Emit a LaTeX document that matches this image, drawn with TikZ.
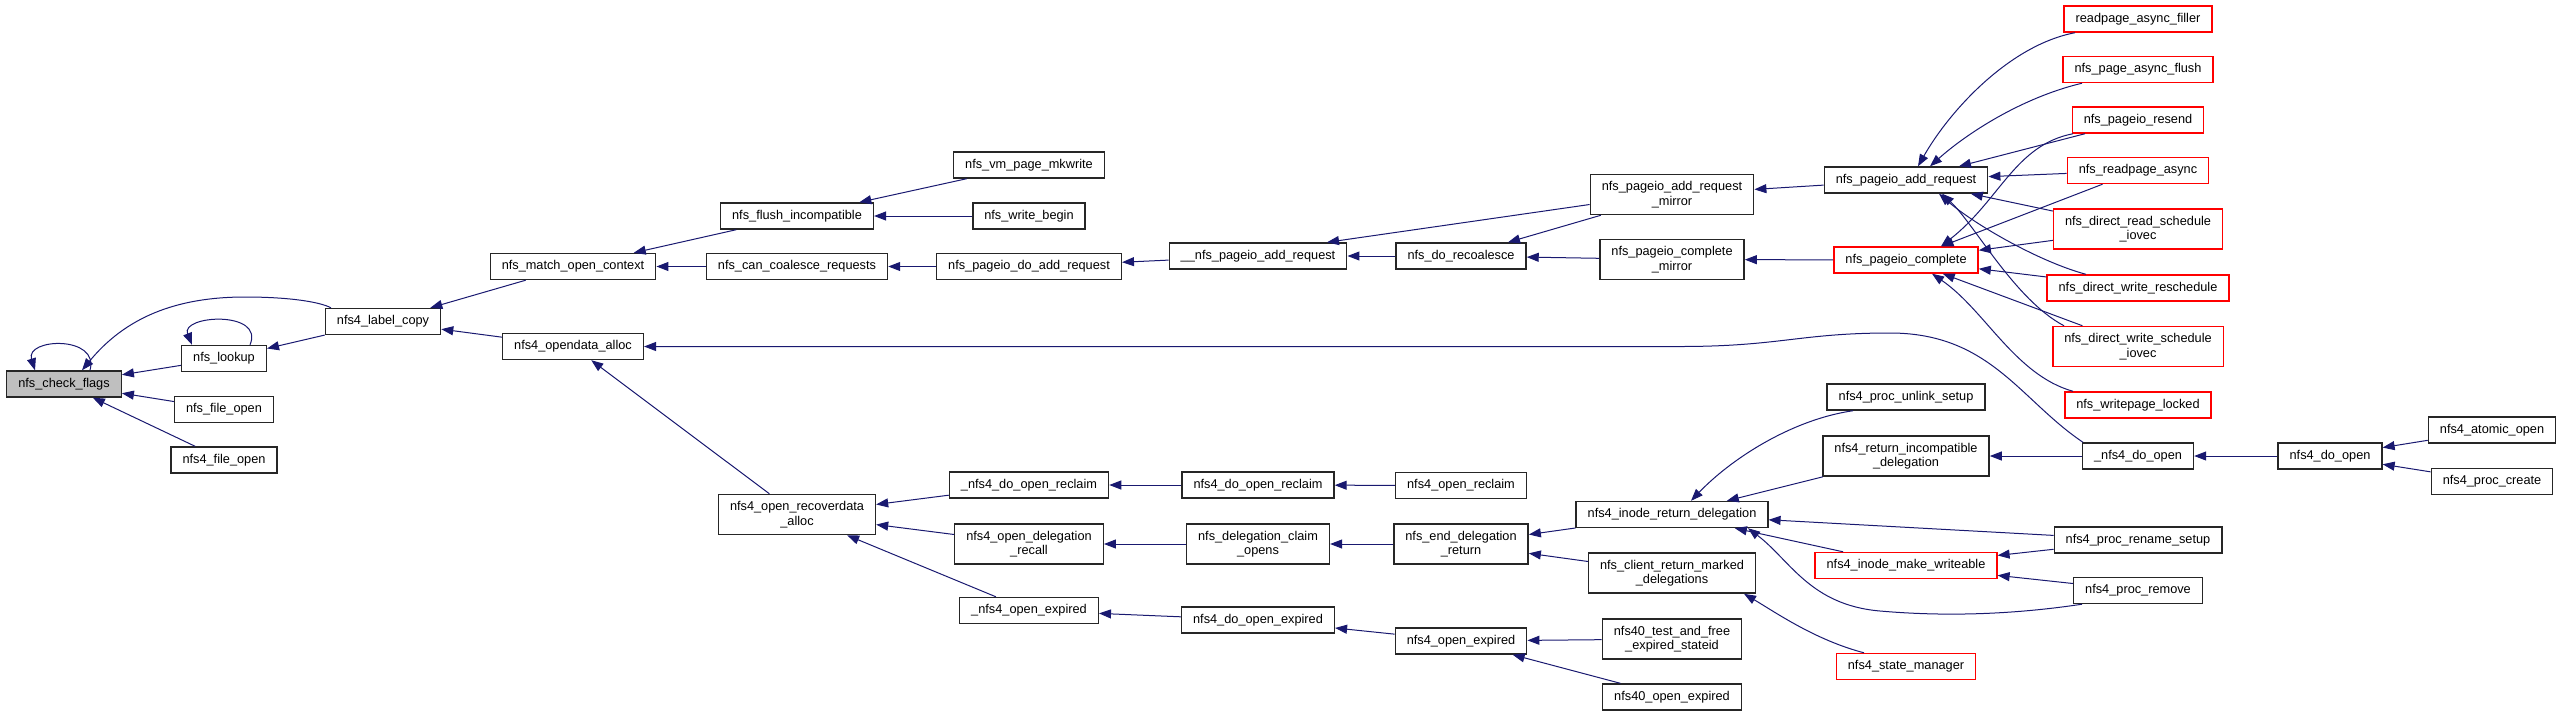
\documentclass[tikz,border=0pt]{standalone}
\usepackage{fontspec}
\setmainfont{Liberation Sans}
\usetikzlibrary{arrows.meta}
\definecolor{midnight}{RGB}{25,25,112}
\definecolor{grey75}{RGB}{191,191,191}
\tikzset{
  >={Triangle[length=12pt,width=9pt]},
  fn/.style={draw=#1,fill=white,line width=1.4pt,inner xsep=11.5pt,inner ysep=7pt,
    minimum height=26pt,align=center,font=\fontsize{12.75}{14.3}\selectfont},
  fn/.default=black!85,
  root/.style={fn,fill=grey75},
  call/.style={<-,draw=midnight,line width=1pt},
}
\begin{document}
\begin{tikzpicture}[x=1pt,y=-1pt]
  \useasboundingbox (0,0) rectangle (2563,716);
  % functions, one column per rank
  \node[root] (chk) at (64,384) {nfs\_check\_flags};
  \node[fn] (lookup) at (224,358.5) {nfs\_lookup};
  \node[fn] (fopen) at (224,409.5) {nfs\_file\_open};
  \node[fn] (f4open) at (224,460) {nfs4\_file\_open};
  \node[fn] (lcopy) at (383,321.5) {nfs4\_label\_copy};
  \node[fn] (match) at (573,266.5) {nfs\_match\_open\_context};
  \node[fn] (odalloc) at (573,346.5) {nfs4\_opendata\_alloc};
  \node[fn] (flush) at (797,216) {nfs\_flush\_incompatible};
  \node[fn] (coal) at (797,266.5) {nfs\_can\_coalesce\_requests};
  \node[fn] (recov) at (797,514.5) {nfs4\_open\_recoverdata\\\_alloc};
  \node[fn] (mkwrite) at (1029,165) {nfs\_vm\_page\_mkwrite};
  \node[fn] (wbegin) at (1029,216) {nfs\_write\_begin};
  \node[fn] (doadd) at (1029,266.5) {nfs\_pageio\_do\_add\_request};
  \node[fn] (udoreclaim) at (1029,485) {\_nfs4\_do\_open\_reclaim};
  \node[fn] (delrecall) at (1029,544) {nfs4\_open\_delegation\\\_recall};
  \node[fn] (uoexp) at (1029,610.5) {\_nfs4\_open\_expired};
  \node[fn] (uuadd) at (1258,256) {\_\_nfs\_pageio\_add\_request};
  \node[fn] (doreclaim) at (1258,485) {nfs4\_do\_open\_reclaim};
  \node[fn] (claim) at (1258,544) {nfs\_delegation\_claim\\\_opens};
  \node[fn] (doexp) at (1258,620) {nfs4\_do\_open\_expired};
  \node[fn] (recoal) at (1461,256) {nfs\_do\_recoalesce};
  \node[fn] (oreclaim) at (1461,485.5) {nfs4\_open\_reclaim};
  \node[fn] (enddel) at (1461,544) {nfs\_end\_delegation\\\_return};
  \node[fn] (oexp) at (1461,641) {nfs4\_open\_expired};
  \node[fn] (addmirror) at (1672,194.5) {nfs\_pageio\_add\_request\\\_mirror};
  \node[fn] (cmirror) at (1672,259.5) {nfs\_pageio\_complete\\\_mirror};
  \node[fn] (iretdel) at (1672,514.5) {nfs4\_inode\_return\_delegation};
  \node[fn] (clientret) at (1672,573) {nfs\_client\_return\_marked\\\_delegations};
  \node[fn] (test40) at (1672,639) {nfs40\_test\_and\_free\\\_expired\_stateid};
  \node[fn] (open40) at (1672,697) {nfs40\_open\_expired};
  \node[fn] (addreq) at (1906,180) {nfs\_pageio\_add\_request};
  \node[fn=red] (compl) at (1906,260) {nfs\_pageio\_complete};
  \node[fn] (unlink) at (1906,397) {nfs4\_proc\_unlink\_setup};
  \node[fn] (retincomp) at (1906,456) {nfs4\_return\_incompatible\\\_delegation};
  \node[fn=red] (mkwriteable) at (1906,565.5) {nfs4\_inode\_make\_writeable};
  \node[fn=red] (stmgr) at (1906,666.5) {nfs4\_state\_manager};
  \node[fn=red] (filler) at (2138,19) {readpage\_async\_filler};
  \node[fn=red] (aflush) at (2138,69.5) {nfs\_page\_async\_flush};
  \node[fn=red] (resend) at (2138,120) {nfs\_pageio\_resend};
  \node[fn=red] (rpasync) at (2138,170.5) {nfs\_readpage\_async};
  \node[fn=red] (drsched) at (2138,229) {nfs\_direct\_read\_schedule\\\_iovec};
  \node[fn=red] (dwresched) at (2138,288) {nfs\_direct\_write\_reschedule};
  \node[fn=red] (dwsched) at (2138,346.5) {nfs\_direct\_write\_schedule\\\_iovec};
  \node[fn=red] (wplocked) at (2138,405) {nfs\_writepage\_locked};
  \node[fn] (udo4open) at (2138,456) {\_nfs4\_do\_open};
  \node[fn] (rename) at (2138,540) {nfs4\_proc\_rename\_setup};
  \node[fn] (remove) at (2138,590.5) {nfs4\_proc\_remove};
  \node[fn] (do4open) at (2330,456) {nfs4\_do\_open};
  \node[fn] (atomic) at (2492,430) {nfs4\_atomic\_open};
  \node[fn] (pcreate) at (2492,481.5) {nfs4\_proc\_create};
  % callers -> callees
  \draw[call] ([xshift=-29pt]chk.north) .. controls (25,338) and (100,335) .. ([xshift=26pt]chk.north);
  \draw[call] ([xshift=18pt]chk.north) .. controls (125,318) and (175,297) .. (245,297) .. controls (290,297) and (320,302) .. ([xshift=-52pt]lcopy.north);
  \draw[call] (chk) -- (lookup); \draw[call] (chk) -- (fopen); \draw[call] (chk) -- (f4open);
  \draw[call] ([xshift=-32pt]lookup.north) .. controls (180,315) and (265,310) .. ([xshift=26pt]lookup.north);
  \draw[call] (lookup) -- (lcopy);
  \draw[call] (lcopy) -- (match); \draw[call] (lcopy) -- (odalloc);
  \draw[call] (match) -- (flush); \draw[call] (match) -- (coal);
  \draw[call] (odalloc) -- (recov);
  \draw[call] (odalloc.east) -- (1680,346.5) .. controls (1780,346.5) and (1800,333) .. (1890,333) .. controls (1990,333) and (2020,400) .. ([xshift=-55pt]udo4open.north);
  \draw[call] (flush) -- (mkwrite); \draw[call] (flush) -- (wbegin);
  \draw[call] (coal) -- (doadd);
  \draw[call] (doadd) -- (uuadd);
  \draw[call] (uuadd) -- (recoal);
  \draw[call] ([xshift=69pt]uuadd.north) -- ([yshift=-10pt]addmirror.west);
  \draw[call] (recoal) -- (addmirror); \draw[call] (recoal) -- (cmirror);
  \draw[call] (addmirror) -- (addreq);
  \draw[call] (cmirror) -- (compl);
  \draw[call] ([xshift=12pt]addreq.north) .. controls (1950,110) and (2010,45) .. ([xshift=-63pt]filler.south);
  \draw[call] ([xshift=24pt]addreq.north) .. controls (1965,135) and (2020,98) .. ([xshift=-56pt]aflush.south);
  \draw[call] (addreq) -- (resend); \draw[call] (addreq) -- (rpasync); \draw[call] (addreq) -- (drsched);
  \draw[call] ([xshift=33pt]addreq.south) .. controls (1975,225) and (2040,262) .. ([xshift=-52pt]dwresched.north);
  \draw[call] ([xshift=36pt]addreq.south) .. controls (1975,225) and (2015,300) .. ([xshift=-74pt]dwsched.north);
  \draw[call] ([xshift=35pt]compl.north) .. controls (2000,200) and (2015,145) .. ([xshift=-65pt]resend.south);
  \draw[call] (compl) -- (rpasync); \draw[call] (compl) -- (drsched);
  \draw[call] (compl) -- (dwresched); \draw[call] (compl) -- (dwsched);
  \draw[call] ([xshift=26pt]compl.south) .. controls (1985,310) and (2015,375) .. ([xshift=-65pt]wplocked.north);
  \draw[call] (recov) -- (udoreclaim); \draw[call] (recov) -- (delrecall); \draw[call] (recov) -- (uoexp);
  \draw[call] (udoreclaim) -- (doreclaim); \draw[call] (delrecall) -- (claim); \draw[call] (uoexp) -- (doexp);
  \draw[call] (doreclaim) -- (oreclaim); \draw[call] (claim) -- (enddel); \draw[call] (doexp) -- (oexp);
  \draw[call] (enddel) -- (iretdel); \draw[call] (enddel) -- (clientret);
  \draw[call] (oexp) -- (test40); \draw[call] (oexp) -- (open40);
  \draw[call] ([xshift=19pt]iretdel.north) .. controls (1730,460) and (1790,420) .. ([xshift=-53pt]unlink.south);
  \draw[call] (iretdel) -- (retincomp); \draw[call] (iretdel) -- (rename); \draw[call] (iretdel) -- (mkwriteable);
  \draw[call] ([xshift=76pt]iretdel.south) .. controls (1790,560) and (1810,605) .. (1880,611) .. controls (1960,618) and (2030,612) .. ([xshift=-56pt]remove.south);
  \draw[call] ([xshift=72pt]clientret.south) .. controls (1775,612) and (1815,640) .. ([xshift=-42pt]stmgr.north);
  \draw[call] (retincomp) -- (udo4open);
  \draw[call] (mkwriteable) -- (rename); \draw[call] (mkwriteable) -- (remove);
  \draw[call] (udo4open) -- (do4open);
  \draw[call] (do4open) -- (atomic); \draw[call] (do4open) -- (pcreate);
\end{tikzpicture}
\end{document}
